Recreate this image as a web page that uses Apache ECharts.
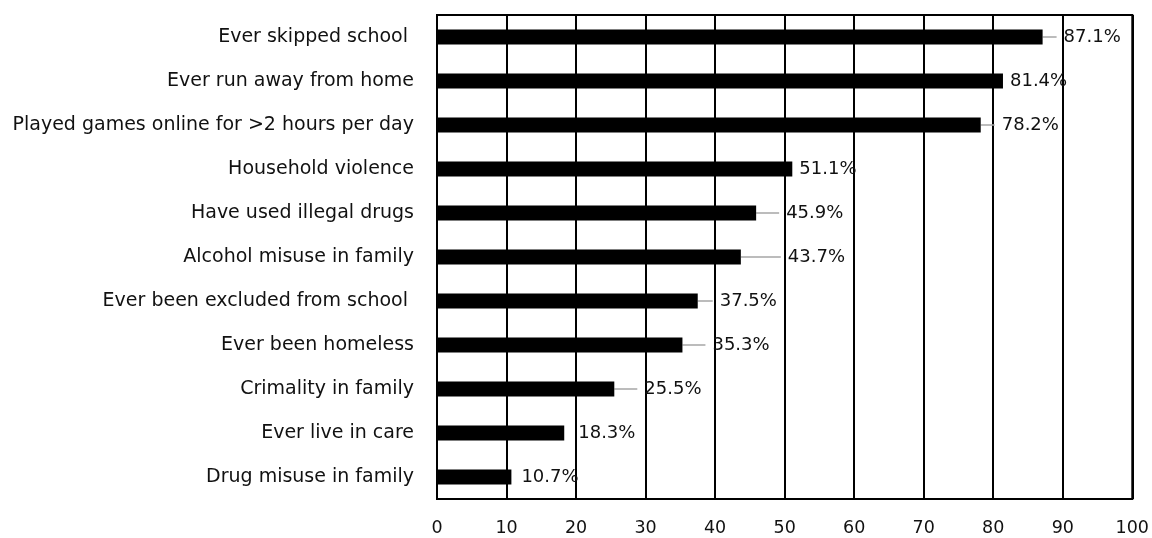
<!DOCTYPE html>
<html>
<head>
<meta charset="utf-8">
<script src="https://cdn.jsdelivr.net/npm/echarts@6/dist/echarts.min.js"></script>
<style>html,body{margin:0;padding:0;background:#fff;}#c{width:1152px;height:538px;}</style>
</head>
<body>
<div id="c"></div>
<script>
const categories = [
  "Ever skipped school ",
  "Ever run away from home",
  "Played games online for >2 hours per day",
  "Household violence",
  "Have used illegal drugs",
  "Alcohol misuse in family",
  "Ever been excluded from school ",
  "Ever been homeless",
  "Crimality in family",
  "Ever live in care",
  "Drug misuse in family"
];
const values = [87.1, 81.4, 78.2, 51.1, 45.9, 43.7, 37.5, 35.3, 25.5, 18.3, 10.7];
const xTicks = [0, 10, 20, 30, 40, 50, 60, 70, 80, 90, 100];

// label placement (pixels) for the dragged data labels
const labelDx = [14, 0, 14, 0, 23, 40, 15, 23, 23, 7, 3];

const font = "DejaVu Sans";
const chart = echarts.init(document.getElementById('c'));
chart.setOption({
  animation: false,
  backgroundColor: '#fff',
  grid: { left: 437, right: 19, top: 15, bottom: 39, show: true, borderColor: '#000', borderWidth: 2 },
  xAxis: {
    type: 'value', min: xTicks[0], max: xTicks[xTicks.length - 1], interval: 10,
    axisLine: { show: false }, axisTick: { show: false },
    splitLine: { show: true, lineStyle: { color: '#000', width: 2 } },
    axisLabel: { margin: 20, color: '#111', fontFamily: font, fontSize: 17.5 }
  },
  yAxis: {
    type: 'category', data: categories, inverse: true,
    axisLine: { show: true, lineStyle: { color: '#000', width: 2 } },
    axisTick: { show: false },
    axisLabel: { margin: 23, color: '#111', fontFamily: font, fontSize: 19 }
  },
  series: [{
    type: 'bar',
    barWidth: 15,
    itemStyle: { color: '#000' },
    data: values.map((v, i) => ({ value: v, labelLine: { show: labelDx[i] > 10 } })),
    label: {
      show: true, position: 'right', distance: 0,
      color: '#111', fontFamily: font, fontSize: 18,
      formatter: p => '{s|}' + p.value.toFixed(1) + '%',
      rich: { s: { width: 7 } }
    },
    labelLine: { lineStyle: { color: '#a6a6a6', width: 1.5 } },
    labelLayout: p => ({ dx: labelDx[p.dataIndex] })
  }]
});
</script>
</body>
</html>
